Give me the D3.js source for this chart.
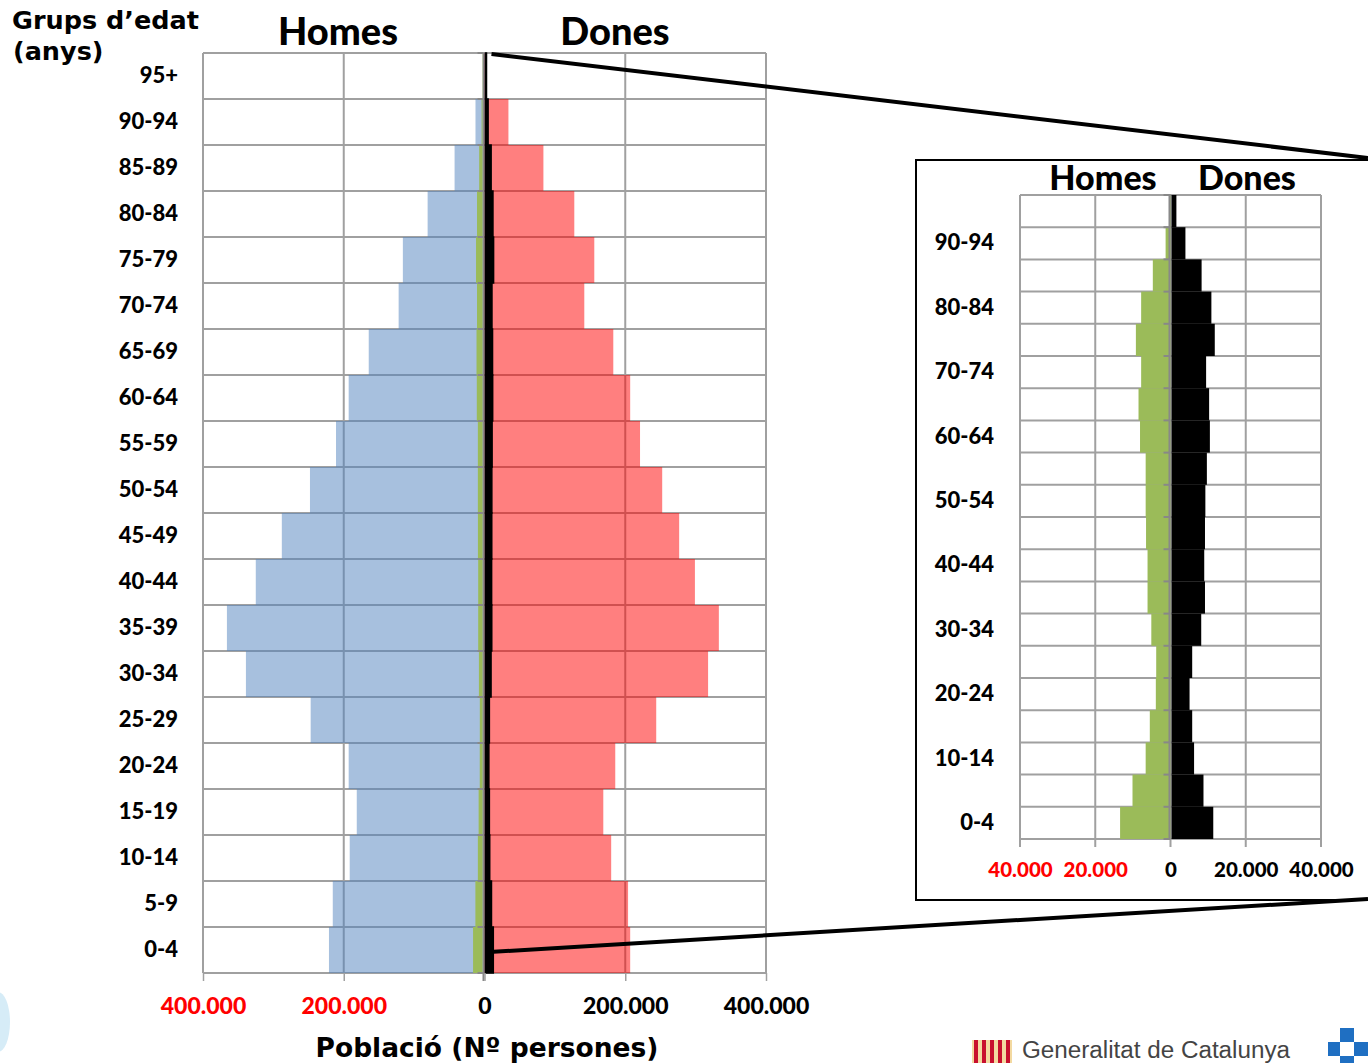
<!DOCTYPE html>
<html>
<head>
<meta charset="utf-8">
<script src="https://cdn.jsdelivr.net/npm/d3@7"></script>
<style>
  body { margin: 0; background: #fff; }
  svg { display: block; }
</style>
</head>
<body>
<svg id="chart" width="1368" height="1063"></svg>
<script>
// age groups, bottom to top
const ages = ["0-4", "5-9", "10-14", "15-19", "20-24", "25-29", "30-34", "35-39", "40-44", "45-49",
  "50-54", "55-59", "60-64", "65-69", "70-74", "75-79", "80-84", "85-89", "90-94", "95+"];

// total population (blue = men, red = women)
const homes = [221000, 215600, 191500, 181500, 193000, 247000, 339000, 366000, 325000, 288000,
  248000, 211000, 193000, 164500, 122000, 116000, 80800, 42500, 12800, 1000];
const dones = [207000, 204000, 180000, 168800, 185800, 244000, 317700, 333000, 299000, 276600,
  252500, 221000, 207000, 183000, 141800, 156000, 127600, 83700, 34000, 1500];

// subgroup shown in the zoom box (green = men, black = women)
const homesSub = [13400, 10100, 6600, 5500, 3900, 3800, 5100, 6100, 6100, 6500,
  6600, 6600, 8100, 8500, 7800, 9200, 7800, 4700, 1300, 300];
const donesSub = [11100, 8500, 6000, 5500, 4800, 5500, 7900, 8900, 8700, 8900,
  9000, 9400, 10200, 10000, 9200, 11500, 10600, 8000, 3700, 1300];

const mainTicks = [-400000, -200000, 0, 200000, 400000];
const insetTicks = [-40000, -20000, 0, 20000, 40000];
const insetAgeLabels = ["0-4", "10-14", "20-24", "30-34", "40-44", "50-54", "60-64", "70-74", "80-84", "90-94"];

const rows = ages.map((a, i) => ({
  age: a, homes: homes[i], dones: dones[i], hSub: homesSub[i], dSub: donesSub[i]
}));

const svg = d3.select("#chart");
const fmt = d3.formatLocale({decimal: ",", thousands: ".", grouping: [3], currency: ["", ""]}).format(",d");
const gridCol = "#a0a0a0";
const calibri = "Lato, 'Open Sans', sans-serif";
const verdana = "'DejaVu Sans', Verdana, sans-serif";

/* ---------------- main pyramid ---------------- */
const x = d3.scaleLinear().domain([-400000, 400000]).range([203, 766]);
const y = d3.scaleBand().domain(ages.slice().reverse()).range([53, 973]).padding(0);
const bounds = d3.range(ages.length + 1).map(i => y.range()[0] + i * y.step());

const main = svg.append("g");

// grid
main.selectAll(".vgrid").data(mainTicks).join("line")
  .attr("x1", d => x(d)).attr("x2", d => x(d))
  .attr("y1", y.range()[0]).attr("y2", y.range()[1])
  .attr("stroke", gridCol).attr("stroke-width", 2);
main.selectAll(".hgrid").data(bounds).join("line")
  .attr("x1", x.range()[0]).attr("x2", x.range()[1])
  .attr("y1", d => d).attr("y2", d => d)
  .attr("stroke", gridCol).attr("stroke-width", 2);

// semi transparent totals
main.selectAll(".homes").data(rows).join("rect")
  .attr("x", d => x(-d.homes)).attr("width", d => x(0) - x(-d.homes))
  .attr("y", d => y(d.age)).attr("height", y.bandwidth())
  .attr("fill", "#4f81bd").attr("fill-opacity", 0.5);
main.selectAll(".dones").data(rows).join("rect")
  .attr("x", x(0)).attr("width", d => x(d.dones) - x(0))
  .attr("y", d => y(d.age)).attr("height", y.bandwidth())
  .attr("fill", "#ff0000").attr("fill-opacity", 0.5);

// zero line
main.append("line")
  .attr("x1", x(0) - 1).attr("x2", x(0) - 1)
  .attr("y1", y.range()[0]).attr("y2", y.range()[1] + 8)
  .attr("stroke", "#888").attr("stroke-width", 2);

// subgroup bars
main.selectAll(".hsub").data(rows).join("rect")
  .attr("x", d => x(-d.hSub) - 2).attr("width", d => x(0) - x(-d.hSub))
  .attr("y", d => y(d.age)).attr("height", y.bandwidth())
  .attr("fill", "#9bbb59");
main.selectAll(".dsub").data(rows).join("rect")
  .attr("x", x(0) + 1).attr("width", d => Math.max(1, x(d.dSub) - x(0)))
  .attr("y", d => y(d.age)).attr("height", y.bandwidth())
  .attr("fill", "#000").attr("stroke", "#000").attr("stroke-width", 1.5);

main.selectAll(".ytick").data(bounds).join("line")
  .attr("x1", x(0) - 7).attr("x2", x(0) - 1)
  .attr("y1", d => d).attr("y2", d => d)
  .attr("stroke", "#888").attr("stroke-width", 2);

// x axis
const xAxis = main.append("g")
  .attr("transform", `translate(0,${y.range()[1]})`)
  .call(d3.axisBottom(x).tickValues(mainTicks).tickSize(8).tickFormat(d => fmt(Math.abs(d))));
xAxis.select(".domain").remove();
xAxis.selectAll(".tick line").attr("stroke", gridCol).attr("stroke-width", 1.5);
xAxis.selectAll("text")
  .attr("y", 25).attr("dy", "0.71em")
  .attr("font-family", calibri).attr("font-weight", "900").attr("font-size", 23)
  .attr("fill", d => d < 0 ? "#ff0000" : "#000");

// age labels
const yAxis = main.append("g")
  .attr("transform", `translate(${x.range()[0]},0)`)
  .call(d3.axisLeft(y).tickSize(0).tickPadding(25));
yAxis.select(".domain").remove();
yAxis.selectAll("text")
  .attr("font-family", calibri).attr("font-weight", "900").attr("font-size", 22).attr("fill", "#000");

// titles
main.append("text").attr("x", 338).attr("y", 45).attr("text-anchor", "middle")
  .attr("font-family", calibri).attr("font-weight", "900").attr("font-size", 38).text("Homes");
main.append("text").attr("x", 615).attr("y", 45).attr("text-anchor", "middle")
  .attr("font-family", calibri).attr("font-weight", "900").attr("font-size", 38).text("Dones");
main.append("text").attr("x", 12).attr("y", 29)
  .attr("font-family", verdana).attr("font-weight", "bold").attr("font-size", 25.5).text("Grups d’edat");
main.append("text").attr("x", 13).attr("y", 60)
  .attr("font-family", verdana).attr("font-weight", "bold").attr("font-size", 25.5).text("(anys)");
main.append("text").attr("x", 487).attr("y", 1057).attr("text-anchor", "middle")
  .attr("font-family", verdana).attr("font-weight", "bold").attr("font-size", 26.5).text("Població (Nº persones)");

/* ---------------- zoom box ---------------- */
const x2 = d3.scaleLinear().domain([-40000, 40000]).range([1020, 1321]);
const y2 = d3.scaleBand().domain(ages.slice().reverse()).range([195, 839]).padding(0);
const bounds2 = d3.range(ages.length + 1).map(i => y2.range()[0] + i * y2.step());

const inset = svg.append("g");
inset.append("rect")
  .attr("x", 916).attr("y", 160).attr("width", 600).attr("height", 740)
  .attr("fill", "#fff").attr("stroke", "#000").attr("stroke-width", 2);

inset.selectAll(".vgrid").data(insetTicks).join("line")
  .attr("x1", d => x2(d)).attr("x2", d => x2(d))
  .attr("y1", y2.range()[0]).attr("y2", y2.range()[1] + 8)
  .attr("stroke", gridCol).attr("stroke-width", 2);
inset.selectAll(".hgrid").data(bounds2).join("line")
  .attr("x1", x2.range()[0]).attr("x2", x2.range()[1])
  .attr("y1", d => d).attr("y2", d => d)
  .attr("stroke", gridCol).attr("stroke-width", 2);

inset.selectAll(".hsub").data(rows).join("rect")
  .attr("x", d => x2(-d.hSub)).attr("width", d => x2(0) - x2(-d.hSub))
  .attr("y", d => y2(d.age)).attr("height", y2.bandwidth())
  .attr("fill", "#9bbb59");
inset.selectAll(".ytick").data(bounds2).join("line")
  .attr("x1", x2(0) - 7).attr("x2", x2(0))
  .attr("y1", d => d).attr("y2", d => d)
  .attr("stroke", "#888").attr("stroke-width", 2);
inset.append("line")
  .attr("x1", x2(0) - 1).attr("x2", x2(0) - 1)
  .attr("y1", y2.range()[0]).attr("y2", y2.range()[1])
  .attr("stroke", "#888").attr("stroke-width", 2);
inset.selectAll(".dsub").data(rows).join("rect")
  .attr("x", x2(0) + 1).attr("width", d => x2(d.dSub) - x2(0))
  .attr("y", d => y2(d.age)).attr("height", y2.bandwidth())
  .attr("fill", "#000");

const xAxis2 = inset.append("g")
  .attr("transform", `translate(0,${y2.range()[1]})`)
  .call(d3.axisBottom(x2).tickValues(insetTicks).tickSize(0).tickFormat(d => fmt(Math.abs(d))));
xAxis2.select(".domain").remove();
xAxis2.selectAll("text")
  .attr("y", 23).attr("dy", "0.71em")
  .attr("font-family", calibri).attr("font-weight", "900").attr("font-size", 20.5)
  .attr("fill", d => d < 0 ? "#ff0000" : "#000");

const yAxis2 = inset.append("g")
  .attr("transform", `translate(${x2.range()[0]},0)`)
  .call(d3.axisLeft(y2).tickValues(insetAgeLabels).tickSize(0).tickPadding(26));
yAxis2.select(".domain").remove();
yAxis2.selectAll("text")
  .attr("font-family", calibri).attr("font-weight", "900").attr("font-size", 22).attr("fill", "#000");

inset.append("text").attr("x", 1103).attr("y", 190).attr("text-anchor", "middle")
  .attr("font-family", calibri).attr("font-weight", "900").attr("font-size", 34).text("Homes");
inset.append("text").attr("x", 1247).attr("y", 190).attr("text-anchor", "middle")
  .attr("font-family", calibri).attr("font-weight", "900").attr("font-size", 34).text("Dones");

// connector lines from the zero column to the zoom box
svg.append("line")
  .attr("x1", x(0) + 7).attr("y1", y.range()[0] + 1)
  .attr("x2", 1368).attr("y2", 158)
  .attr("stroke", "#000").attr("stroke-width", 4);
svg.append("line")
  .attr("x1", x(0) + 5).attr("y1", y(ages[0]) + 25)
  .attr("x2", 1368).attr("y2", 899)
  .attr("stroke", "#000").attr("stroke-width", 4);

/* ---------------- footer logos ---------------- */
const logo = svg.append("g");
logo.append("ellipse").attr("cx", -2).attr("cy", 1022).attr("rx", 12).attr("ry", 30).attr("fill", "#d6ecf7");
logo.append("rect").attr("x", 972).attr("y", 1040).attr("width", 40).attr("height", 23).attr("fill", "#f3d9a0");
d3.range(5).forEach(i => {
  logo.append("rect").attr("x", 974 + i * 8).attr("y", 1040).attr("width", 4).attr("height", 23).attr("fill", "#c8102e");
});
logo.append("text").attr("x", 1022).attr("y", 1058)
  .attr("font-family", "'Liberation Sans', Arial, sans-serif").attr("font-size", 23.5).attr("fill", "#444")
  .attr("textLength", 268).attr("lengthAdjust", "spacingAndGlyphs")
  .text("Generalitat de Catalunya");
logo.append("rect").attr("x", 1340).attr("y", 1028).attr("width", 14).attr("height", 14).attr("fill", "#1f6fc2");
logo.append("rect").attr("x", 1328).attr("y", 1042).attr("width", 12).attr("height", 14).attr("fill", "#1f6fc2");
logo.append("rect").attr("x", 1354).attr("y", 1042).attr("width", 14).attr("height", 14).attr("fill", "#1f6fc2");
logo.append("rect").attr("x", 1340).attr("y", 1056).attr("width", 14).attr("height", 7).attr("fill", "#1f6fc2");
</script>
</body>
</html>
